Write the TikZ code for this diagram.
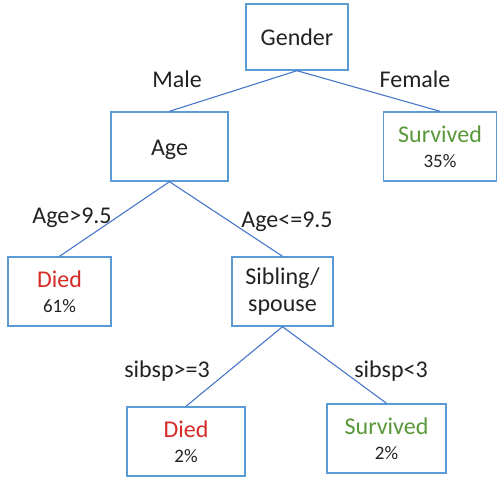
\documentclass[tikz,border=0pt]{standalone}
\usepackage{fontspec}
\setmainfont{Carlito}
\definecolor{boxblue}{RGB}{91,155,213}
\definecolor{edgeblue}{RGB}{72,118,200}
\definecolor{diedred}{RGB}{214,42,38}
\definecolor{survgreen}{RGB}{88,152,58}
\definecolor{ink}{RGB}{34,34,34}
\newcommand\pctline[1]{{\fontsize{19}{19}\selectfont #1}}
\tikzset{
  box/.style={draw=boxblue, line width=1.4pt, rectangle, inner sep=0pt,
    align=center, text=ink, font=\fontsize{24}{25}\selectfont},
  link/.style={draw=edgeblue, line width=1.1pt},
  cond/.style={anchor=base, inner sep=0pt, text=ink,
    font=\fontsize{24}{25}\selectfont},
}
\begin{document}
\begin{tikzpicture}[x=1pt,y=-1pt]
  \useasboundingbox (0,0) rectangle (498,477);

  % decision and leaf boxes
  \node[box, minimum width=102pt, minimum height=66pt] (gender) at (297,37) {Gender};
  \node[box, minimum width=117pt, minimum height=69pt, text height=17pt, text depth=0pt]
    (age) at (169.5,146.5) {Age};
  \node[box, minimum width=113pt, minimum height=69pt] (survF) at (440,146.5)
    {\textcolor{survgreen}{Survived}\\\pctline{35\%}};
  \node[box, minimum width=103pt, minimum height=69pt] (diedOld) at (59.5,291.5)
    {\textcolor{diedred}{Died}\\\pctline{61\%}};
  \node[box, minimum width=101pt, minimum height=69pt] (sib) at (282.5,291.5)
    {Sibling/\\[2pt]spouse};
  \node[box, minimum width=118pt, minimum height=69pt] (diedSib) at (186,441.5)
    {\textcolor{diedred}{Died}\\\pctline{2\%}};
  \node[box, minimum width=119pt, minimum height=69pt] (survSib) at (386.5,438.5)
    {\textcolor{survgreen}{Survived}\\\pctline{2\%}};

  % branches
  \draw[link] (gender.south) -- (age.north);
  \draw[link] (gender.south) -- (survF.north);
  \draw[link] (age.south) -- (diedOld.north);
  \draw[link] (age.south) -- (sib.north);
  \draw[link] (sib.south) -- (diedSib.north);
  \draw[link] (sib.south) -- (survSib.north);

  % branch conditions
  \node[cond] (male) at (177,87) {Male};
  \node[cond] (female) at (415,87) {Female};
  \node[cond] (ageGt) at (72,223) {Age>9.5};
  \node[cond] (ageLe) at (287,227) {Age<=9.5};
  \node[cond] (sibGe) at (167,377) {sibsp>=3};
  \node[cond] (sibLt) at (391,377) {sibsp<3};
\end{tikzpicture}
\end{document}
